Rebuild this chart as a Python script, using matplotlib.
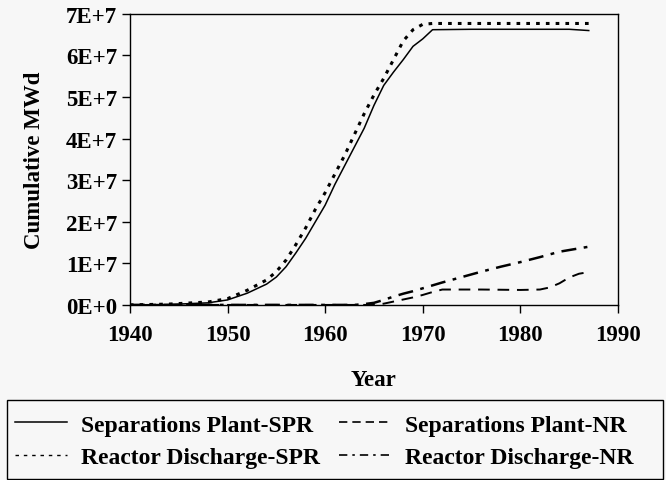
"""
Cumulative MWd by year: separations plant vs reactor discharge (SPR / NR).
Run: python plot.py
"""

import matplotlib.pyplot as plt
from matplotlib.patches import Rectangle
from matplotlib.ticker import FuncFormatter, MultipleLocator

# values, in units of 1E+7 MWd
years_sep_spr = [1940, 1944, 1948, 1950, 1952, 1954, 1955, 1956, 1957, 1958, 1959,
                 1960, 1961, 1962, 1963, 1964, 1965, 1966, 1967, 1968, 1969, 1970,
                 1971, 1975, 1980, 1985, 1987]
sep_spr = [0, 0.01, 0.05, 0.12, 0.28, 0.5, 0.67, 0.92, 1.25, 1.6, 2.0,
           2.4, 2.9, 3.35, 3.8, 4.25, 4.8, 5.28, 5.6, 5.9, 6.22, 6.4,
           6.62, 6.63, 6.63, 6.63, 6.6]

years_rx_spr = [1940, 1944, 1948, 1950, 1952, 1954, 1955, 1956, 1957, 1958, 1959,
                1960, 1961, 1962, 1963, 1964, 1965, 1966, 1967, 1968, 1969, 1970,
                1971, 1980, 1987]
rx_spr = [0, 0.02, 0.07, 0.15, 0.35, 0.6, 0.8, 1.08, 1.45, 1.85, 2.3,
          2.7, 3.15, 3.6, 4.1, 4.6, 5.05, 5.45, 5.9, 6.35, 6.62, 6.75,
          6.77, 6.77, 6.77]

years_sep_nr = [1940, 1965, 1966, 1967, 1968, 1969, 1970, 1971, 1972, 1976, 1980,
                1982, 1983, 1984, 1985, 1986, 1987]
sep_nr = [0, 0, 0.03, 0.08, 0.13, 0.18, 0.24, 0.31, 0.37, 0.37, 0.36,
          0.37, 0.42, 0.52, 0.66, 0.75, 0.79]

years_rx_nr = [1940, 1963, 1964, 1965, 1966, 1967, 1968, 1969, 1970, 1971, 1972,
               1974, 1976, 1978, 1980, 1982, 1984, 1986, 1987]
rx_nr = [0, 0, 0.02, 0.05, 0.12, 0.2, 0.27, 0.33, 0.4, 0.47, 0.54,
         0.67, 0.8, 0.92, 1.03, 1.15, 1.28, 1.36, 1.4]

series_labels = ["Separations Plant-SPR", "Separations Plant-NR",
                 "Reactor Discharge-SPR", "Reactor Discharge-NR"]

plt.rcParams["font.family"] = "Liberation Serif"
plt.rcParams["font.weight"] = "bold"

BG = "#f7f7f7"
FS = 16.5
W, H = 666, 481
fig = plt.figure(figsize=(W / 100, H / 100), dpi=100, facecolor=BG)
ax = fig.add_axes([0.195, 0.364, 0.733, 0.605], facecolor=BG)

scale = 1e7
ax.plot(years_sep_spr, [v * scale for v in sep_spr], color="black", lw=1.1)
ax.plot(years_rx_spr, [v * scale for v in rx_spr], color="black", lw=2.2,
        linestyle=(0, (1.2, 2.0)))
ax.plot(years_sep_nr, [v * scale for v in sep_nr], color="black", lw=1.4,
        linestyle=(0, (6, 4)))
ax.plot(years_rx_nr, [v * scale for v in rx_nr], color="black", lw=1.8,
        linestyle=(0, (6, 3, 1.5, 3)))

ax.set_xlim(1940, 1990)
ax.set_ylim(0, 7e7)
ax.xaxis.set_major_locator(MultipleLocator(10))
ax.yaxis.set_major_locator(MultipleLocator(1e7))
ax.yaxis.set_major_formatter(FuncFormatter(lambda v, _: f"{int(round(v / 1e7))}E+{7 if v else 0}"))
ax.tick_params(direction="out", length=6, width=1, labelsize=FS, pad=3)
ax.tick_params(axis="x", pad=8)
for s in ax.spines.values():
    s.set_linewidth(1)

ax.set_xlabel("Year", fontsize=FS, fontweight="bold", labelpad=17)
ax.set_ylabel("Cumulative MWd", fontsize=FS, fontweight="bold", labelpad=15)

# legend box below the plot (frame drawn separately), two columns
fig.patches.append(Rectangle((7 / W, 1 / H), 656 / W, 79 / H,
                             transform=fig.transFigure, fill=False,
                             edgecolor="black", lw=1))
h1, = ax.plot([], [], color="black", lw=1.1)
h3, = ax.plot([], [], color="black", lw=1.0, linestyle=(0, (2.5, 3.5)))
h2, = ax.plot([], [], color="black", lw=1.2, linestyle=(0, (5, 3)))
h4, = ax.plot([], [], color="black", lw=1.2, linestyle=(0, (5, 3, 1.5, 3)))
fig.legend([h1, h3, h2, h4],
           [series_labels[0], series_labels[2], series_labels[1], series_labels[3]],
           loc="upper left", bbox_to_anchor=(8 / W, 1 - 408 / H),
           ncol=2, frameon=False, fontsize=17,
           handlelength=2.2, handletextpad=0.6, columnspacing=0.8,
           labelspacing=0.45, borderpad=0.3, borderaxespad=0)

fig.savefig("out.png", dpi=100, facecolor=BG)
plt.close(fig)
print("Saved out.png")
